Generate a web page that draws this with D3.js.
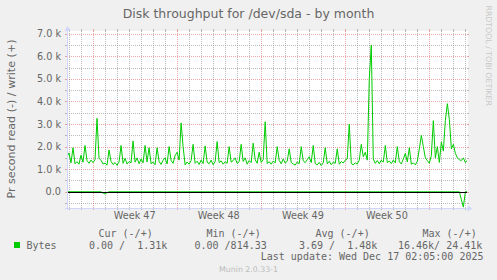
<!DOCTYPE html>
<html><head><meta charset="utf-8">
<script src="https://cdn.jsdelivr.net/npm/d3@7"></script>
<style>
html,body{margin:0;padding:0;background:#F0F0F0;}
svg{display:block;}
text{white-space:pre;}
</style></head>
<body>
<svg id="chart" width="497" height="280"></svg>
<script>
// ---------------- DATA ----------------
const title = "Disk throughput for /dev/sda - by month";
const yAxisLabel = "Pr second read (-) / write (+)";
const seriesName = "Bytes";
// Samples every 4 hours starting at this time (UTC)
const sampleStart = Date.UTC(2025, 10, 13, 20, 40);
const sampleStepHours = 4;
// write (+) bytes/s
const writeBytes = [
1550,1720,1280,1950,1240,1330,1220,1620,1310,2050,
1380,1260,1400,1290,1420,3250,1480,1390,1230,1270,
1180,1850,1340,1210,1290,1170,1320,2050,1260,1480,
1230,1340,1280,2250,1310,1500,1240,1450,1280,2050,
1320,1950,1240,1310,1200,1950,1340,1210,1390,1500,
1230,2000,1380,1260,1600,1750,1400,3050,2000,1190,
1320,1220,1380,2100,1260,1350,1210,1400,1250,2030,
1310,1240,1400,1200,1330,2220,1290,1370,1220,1330,
1260,2000,1310,1380,1500,1250,1330,2100,1340,1500,
1220,1380,1290,2150,1420,1260,1750,1300,1420,3100,
1250,1330,1220,1360,1280,2000,1390,1240,1450,1270,
1350,1900,1300,1230,1180,1320,1240,2000,1370,1290,
1420,1550,1290,2050,1250,1190,1300,1160,1280,1950,
1240,1350,1200,1310,1260,1900,1220,1340,1270,1400,
1450,3000,1250,1190,1280,1230,1400,2100,1550,1750,
1400,5000,6500,1450,1260,1380,1240,1400,1310,2050,
1290,1360,1250,1400,1280,2000,1330,1230,1450,1700,
1320,1950,1220,1280,1190,1350,1900,2500,2000,1500,
1380,1260,1600,3150,1500,2000,1300,2200,1800,3150,
3900,3200,1900,2100,1700,1500,1420,1380,1500,1290,
1400];
// read (-) bytes/s (drawn below zero)
const readBytes = [
0,0,0,0,0,0,0,0,0,0,
0,0,0,0,0,0,0,0,60,100,
40,0,0,0,0,0,0,0,0,0,
0,0,0,0,0,0,0,0,0,0,
0,0,0,0,0,0,0,0,0,0,
0,0,0,0,0,0,0,0,0,0,
0,0,0,0,0,0,0,0,0,0,
0,0,0,0,0,0,0,0,0,0,
0,0,0,0,0,0,0,0,0,0,
0,0,0,0,0,0,0,0,0,0,
0,0,0,0,0,0,0,0,0,0,
0,0,0,0,0,0,0,0,0,0,
0,0,0,0,0,0,0,0,0,0,
0,0,0,0,0,0,0,0,0,0,
0,0,0,0,0,0,0,0,0,0,
0,0,0,0,0,0,0,0,0,0,
0,0,0,0,0,0,0,0,0,0,
0,0,0,0,0,0,0,0,0,0,
0,0,0,0,0,0,0,0,0,0,
0,0,0,0,0,0,0,350,680,0,
0];
const yMajorTicks = [0,1000,2000,3000,4000,5000,6000,7000];
const yTickLabels = ["0.0","1.0 k","2.0 k","3.0 k","4.0 k","5.0 k","6.0 k","7.0 k"];
const yMinorTicks = [-500,500,1500,2500,3500,4500,5500,6500];
const legendHeaders = ["Cur (-/+)","Min (-/+)","Avg (-/+)","Max (-/+)"];
const legendValues = ["0.00 /  1.31k","0.00 /814.33","3.69 /  1.48k","16.46k/ 24.41k"];
const lastUpdate = "Last update: Wed Dec 17 02:05:00 2025";
const watermark = "Munin 2.0.33-1";
const sideText = "RRDTOOL / TOBI OETIKER";
const domainStart = Date.UTC(2025, 10, 13, 20, 40);
const domainEnd = Date.UTC(2025, 11, 17, 3, 55);

// ---------------- DRAW ----------------
const svg = d3.select("#chart");
const L = 67, R = 467, T = 31, B = 208;
const FONT = "DejaVu Sans, Verdana, sans-serif";
const MONO = "DejaVu Sans Mono, monospace";
const FONTC = "#666666";
const AXISC = "#CFD6F8";
const GRIDC = "rgba(143,143,143,0.6)";
const MGRIDC = "rgba(222,79,79,0.5)";

const x = d3.scaleUtc().domain([domainStart, domainEnd]).range([L, R]);
const y = d3.scaleLinear().domain([-720, 7120]).range([B, T]);
const px = v => Math.round(v) + 0.5;

// canvas
svg.append("rect").attr("x", L).attr("y", T).attr("width", R - L + 1).attr("height", B - T)
  .attr("fill", "#FFFFFF");

// grid helpers
function hGrid(v, color) {
  const yy = px(y(v));
  svg.append("line").attr("x1", L - 2).attr("x2", L).attr("y1", yy).attr("y2", yy).attr("stroke", color);
  svg.append("line").attr("x1", R).attr("x2", R + 2).attr("y1", yy).attr("y2", yy).attr("stroke", color);
  svg.append("line").attr("x1", L).attr("x2", R).attr("y1", yy).attr("y2", yy)
    .attr("stroke", color).attr("stroke-dasharray", "1,1");
}
function vGrid(t, color) {
  const xx = px(x(t));
  svg.append("line").attr("x1", xx).attr("x2", xx).attr("y1", B).attr("y2", B + 2).attr("stroke", color);
  svg.append("line").attr("x1", xx).attr("x2", xx).attr("y1", T - 2).attr("y2", T).attr("stroke", color);
  svg.append("line").attr("x1", xx).attr("x2", xx).attr("y1", T).attr("y2", B)
    .attr("stroke", color).attr("stroke-dasharray", "1,1");
}
const days = d3.utcDay.range(new Date(domainStart), new Date(domainEnd));
const weeks = d3.utcSunday.range(new Date(domainStart), new Date(domainEnd));
const weekSet = new Set(weeks.map(d => +d));
days.filter(d => !weekSet.has(+d)).forEach(d => vGrid(d, GRIDC));
yMinorTicks.forEach(v => hGrid(v, GRIDC));
weeks.forEach(d => vGrid(d, MGRIDC));
yMajorTicks.forEach(v => hGrid(v, MGRIDC));

// y tick labels
svg.append("g").selectAll("text").data(yMajorTicks).join("text")
  .attr("x", 61).attr("y", d => y(d) + 3.5)
  .attr("text-anchor", "end").attr("font-family", FONT).attr("font-size", 9.7)
  .attr("fill", FONTC).text((d, i) => yTickLabels[i]);

// x week labels (centered mid-week)
const wfmt = d3.utcFormat("Week %V");
const labelTimes = d3.utcSunday.range(d3.utcSunday.floor(new Date(domainStart)), new Date(domainEnd))
  .map(d => new Date(+d + 3.5 * 864e5))
  .filter(d => x(d) > L + 20 && x(d) < R - 20);
svg.append("g").selectAll("text").data(labelTimes).join("text")
  .attr("x", d => x(d)).attr("y", 219.3).attr("text-anchor", "middle")
  .attr("font-family", FONT).attr("font-size", 9.7).attr("fill", FONTC)
  .text(d => wfmt(d));

// series
const times = writeBytes.map((_, i) => new Date(sampleStart + i * sampleStepHours * 3600e3));
svg.append("clipPath").attr("id", "clip").append("rect")
  .attr("x", L).attr("y", T).attr("width", R - L).attr("height", B - T + 1);
const line = d3.line().x(d => x(d[0])).y(d => y(d[1]));
const g = svg.append("g").attr("clip-path", "url(#clip)");
g.append("path").datum(times.map((t, i) => [t, -readBytes[i]]))
  .attr("d", line).attr("fill", "none").attr("stroke", "#00CC00").attr("stroke-width", 1);
// zero rule
g.append("line").attr("x1", L).attr("x2", R).attr("y1", px(y(0))).attr("y2", px(y(0)))
  .attr("stroke", "#000000");
g.append("path").datum(times.map((t, i) => [t, writeBytes[i]]))
  .attr("d", line).attr("fill", "none").attr("stroke", "#00CC00").attr("stroke-width", 1);

// axes
svg.append("line").attr("x1", L - 2).attr("x2", R + 2).attr("y1", B + 0.5).attr("y2", B + 0.5).attr("stroke", AXISC);
svg.append("line").attr("x1", L + 0.5).attr("x2", L + 0.5).attr("y1", B + 2).attr("y2", T - 2).attr("stroke", AXISC);
svg.append("path").attr("d", `M${R + 0.5},${B - 2.5}L${R + 5.5},${B + 0.5}L${R + 0.5},${B + 3.5}Z`).attr("fill", AXISC);
svg.append("path").attr("d", `M${L - 2.5},${T}L${L + 0.5},${T - 5}L${L + 3.5},${T}Z`).attr("fill", AXISC);

// title
svg.append("text").attr("x", 248.5).attr("y", 18).attr("text-anchor", "middle")
  .attr("font-family", FONT).attr("font-size", 12.5).attr("fill", FONTC).text(title);

// y axis label
svg.append("text").attr("transform", "translate(15,119) rotate(-90)")
  .attr("text-anchor", "middle").attr("font-family", FONT).attr("font-size", 11.1)
  .attr("fill", FONTC).text(yAxisLabel);

// side text
svg.append("text").attr("transform", "translate(486,5.5) rotate(90)")
  .attr("text-anchor", "start").attr("font-family", FONT).attr("font-size", 7.8)
  .attr("fill", "#C8C8C8").text(sideText);

// legend
const colX = [98.5, 206.5, 315.5, 422.5];
const valX = [89, 194.5, 299, 398];
legendHeaders.forEach((h, i) => {
  svg.append("text").attr("x", colX[i]).attr("y", 237).attr("font-family", MONO)
    .attr("font-size", 10).attr("fill", FONTC).text(h);
});
svg.append("rect").attr("x", 14).attr("y", 242).attr("width", 6).attr("height", 6).attr("fill", "#00CC00");
svg.append("text").attr("x", 26.5).attr("y", 248.7).attr("font-family", MONO)
  .attr("font-size", 10).attr("fill", FONTC).text(seriesName);
legendValues.forEach((v, i) => {
  svg.append("text").attr("x", valX[i]).attr("y", 248.7).attr("font-family", MONO)
    .attr("font-size", 10).attr("fill", FONTC).text(v);
});
svg.append("text").attr("x", 483.5).attr("y", 260.3).attr("text-anchor", "end").attr("font-family", MONO)
  .attr("font-size", 10).attr("fill", FONTC).text(lastUpdate);
svg.append("text").attr("x", 248.5).attr("y", 272).attr("text-anchor", "middle").attr("font-family", FONT)
  .attr("font-size", 7.8).attr("fill", "#BBBBBB").text(watermark);
</script>
</body></html>
